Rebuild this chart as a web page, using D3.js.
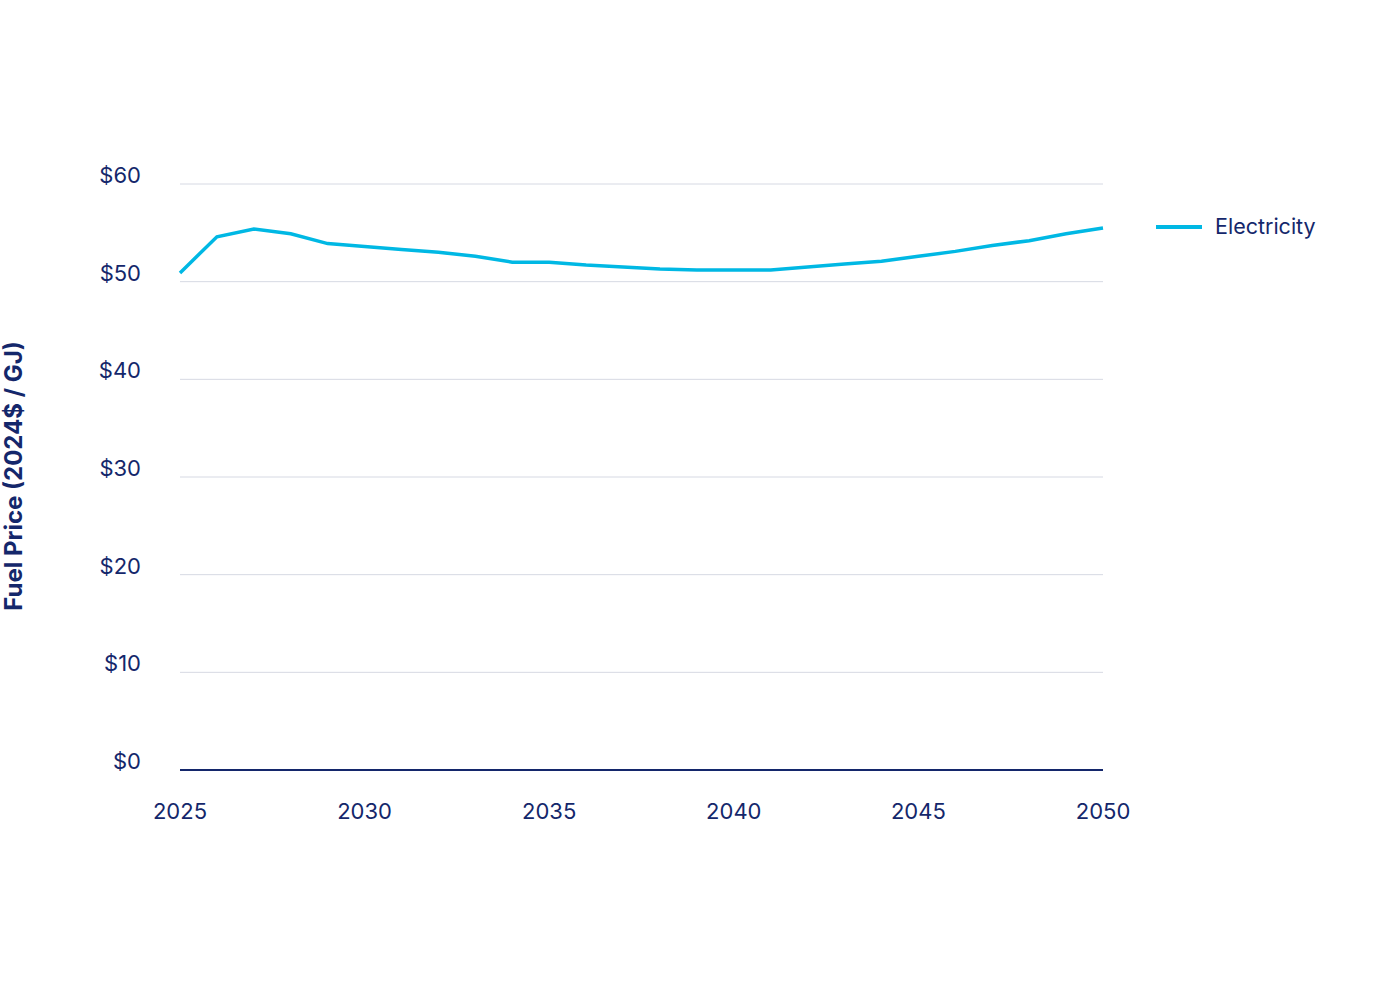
<!DOCTYPE html>
<html lang="en">
<head>
<meta charset="UTF-8">
<title>Fuel Price</title>
<script src="https://d3js.org/d3.v7.min.js"></script>
<style>
  body { margin: 0; background: #fff; font-family: Inter, "Noto Sans", sans-serif; }
</style>
</head>
<body>
<div id="chart"></div>
<script>
  var years = d3.range(2025, 2051);
  var electricity = [50.9, 54.6, 55.4, 54.9, 53.9, 53.6, 53.3, 53.0, 52.6, 52.0, 52.0, 51.7, 51.5,
    51.3, 51.2, 51.2, 51.2, 51.5, 51.8, 52.1, 52.6, 53.1, 53.7, 54.2, 54.9, 55.5];
  var yTicks = [0, 10, 20, 30, 40, 50, 60];
  var xTicks = [2025, 2030, 2035, 2040, 2045, 2050];

  var navy = '#14276b';
  var lineColor = '#00b8e4';

  var svg = d3.select('#chart').append('svg')
    .attr('width', 1400).attr('height', 988);

  var x = d3.scaleLinear().domain([2025, 2050]).range([180, 1103]);
  var y = d3.scaleLinear().domain([0, 60]).range([770, 184]);

  // gridlines
  svg.append('g').selectAll('line')
    .data(yTicks.filter(function(d) { return d > 0; }))
    .enter().append('line')
    .attr('x1', 180).attr('x2', 1103)
    .attr('y1', function(d) { return y(d); })
    .attr('y2', function(d) { return y(d); })
    .attr('stroke', '#d6d9e3').attr('stroke-width', 1);

  // zero line
  svg.append('line')
    .attr('x1', 180).attr('x2', 1103)
    .attr('y1', y(0)).attr('y2', y(0))
    .attr('stroke', navy).attr('stroke-width', 2);

  // y labels
  svg.append('g').selectAll('text')
    .data(yTicks).enter().append('text')
    .attr('x', 141)
    .attr('y', function(d) { return y(d) - 1; })
    .attr('text-anchor', 'end')
    .attr('font-size', 22).attr('fill', navy)
    .text(function(d) { return '$' + d; });

  // x labels
  svg.append('g').selectAll('text')
    .data(xTicks).enter().append('text')
    .attr('x', function(d) { return x(d); })
    .attr('y', 819)
    .attr('text-anchor', 'middle')
    .attr('font-size', 22).attr('fill', navy)
    .text(function(d) { return d; });

  // axis title
  svg.append('text')
    .attr('transform', 'translate(22,476) rotate(-90)')
    .attr('text-anchor', 'middle')
    .attr('font-size', 24).attr('font-weight', 'bold').attr('fill', navy)
    .text('Fuel Price (2024$ / GJ)');

  var line = d3.line()
    .x(function(d, i) { return x(years[i]); })
    .y(function(d) { return y(d); });

  svg.append('path')
    .datum(electricity)
    .attr('fill', 'none')
    .attr('stroke', lineColor)
    .attr('stroke-width', 3.5)
    .attr('d', line);

  // legend
  svg.append('line')
    .attr('x1', 1156).attr('x2', 1202).attr('y1', 227).attr('y2', 227)
    .attr('stroke', lineColor).attr('stroke-width', 4);
  svg.append('text')
    .attr('x', 1215).attr('y', 234)
    .attr('font-size', 21.5).attr('fill', navy)
    .text('Electricity');
</script>
</body>
</html>
